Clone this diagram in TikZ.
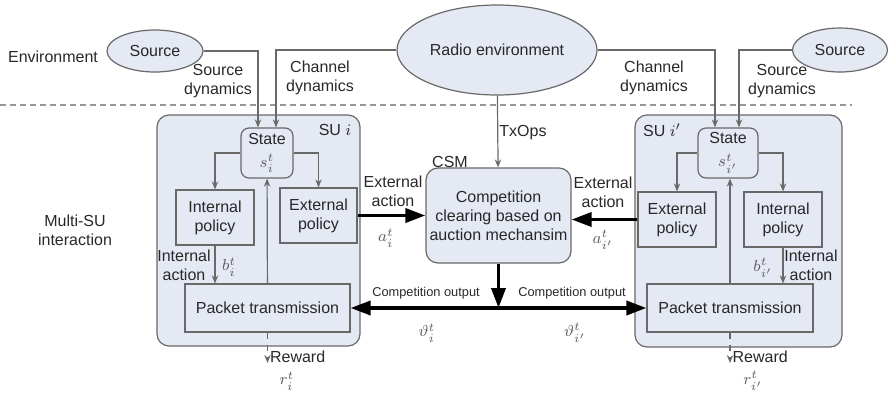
\documentclass[tikz,border=0pt]{standalone}
\usepackage{fontspec}
\setmainfont{Liberation Sans}
\usepackage{tikz}
\usetikzlibrary{arrows.meta,shapes.geometric}
\definecolor{boxfill}{RGB}{228,233,244}
\definecolor{edge}{RGB}{105,105,105}
\definecolor{txt}{RGB}{40,40,40}
\definecolor{mathtxt}{RGB}{95,95,95}
\newcommand{\vlab}[1]{\textcolor{mathtxt}{$#1$}}

\begin{document}
\begin{tikzpicture}[x=0.5pt,y=-0.5pt,>={Stealth[length=4pt,width=3.2pt]},
    line width=0.6pt,text=txt,font=\fontsize{8}{9.5}\selectfont,
    blk/.style={draw=edge,fill=boxfill,align=center,inner sep=1pt},
    oval/.style={ellipse,draw=edge,fill=boxfill,inner sep=0pt},
    su/.style={draw=edge,fill=boxfill,rounded corners=6pt},
    lnk/.style={draw=edge,->},
    big/.style={draw=black,line width=1.8pt,-{Triangle[length=10pt,width=7pt]}},
    sm/.style={font=\fontsize{6.4}{7.5}\selectfont},
    mlab/.style={inner sep=0.5pt}]
      \useasboundingbox (0,0) rectangle (888,392);
      % environment
      \draw[edge!70,dash pattern=on 3pt off 2pt] (0,105) -- (852,105);
      \node (env) at (53,57) {Environment};
      \node[oval,minimum width=48pt,minimum height=21pt] (srcL) at (155,51) {Source};
      \node[oval,minimum width=100pt,minimum height=45pt] (radio) at (497,50) {Radio environment};
      \node[oval,minimum width=47.5pt,minimum height=22pt] (srcR) at (840,50) {Source};
      \node[align=center] (multi) at (75,230) {Multi-SU\\interaction};
      % SU boxes
      \node[su,minimum width=101.5pt,minimum height=115.5pt] (suL) at (258.5,230.5) {};
      \node[su,minimum width=103.5pt,minimum height=116pt] (suR) at (738.5,231) {};
      \node (suLlbl) at (335,130) {SU $i$};
      \node (suRlbl) at (662,130) {SU $i'$};
      \node[blk,rounded corners=4pt,minimum width=26pt,minimum height=25pt] (stL) at (267,153) {State\\[2pt]\vlab{s_i^t}};
      \node[blk,rounded corners=4pt,minimum width=30pt,minimum height=25pt] (stR) at (728,153) {State\\[2pt]\vlab{s_{i'}^t}};
      \node[blk,minimum width=39pt,minimum height=27.5pt] (intL) at (215,217.5) {Internal\\policy};
      \node[blk,minimum width=38.5pt,minimum height=27.5pt] (extL) at (318.5,215.5) {External\\policy};
      \node[blk,minimum width=39pt,minimum height=27.5pt] (extR) at (677,219.5) {External\\policy};
      \node[blk,minimum width=39pt,minimum height=27.5pt] (intR) at (783,219.5) {Internal\\policy};
      \node[blk,minimum width=82.5pt,minimum height=24pt] (pktL) at (267.5,308) {Packet transmission};
      \node[blk,minimum width=83pt,minimum height=24pt] (pktR) at (730,308) {Packet transmission};
      \node[blk,rounded corners=6pt,minimum width=72.5pt,minimum height=47.5pt] (csm) at (498.5,215.5) {Competition\\clearing based on\\auction mechansim};
      \node (csmlbl) at (450,162) {CSM};
      \coordinate (jn) at (498.5,308);
      \coordinate (rwL) at (267.5,363);
      \coordinate (rwR) at (730,363);
      % environment to SUs
      \draw[lnk] (srcL) -| ([xshift=-4.5pt]stL.north);
      \draw[lnk] (radio) -| ([xshift=4.5pt]stL.north);
      \draw[lnk] (radio) -| ([xshift=-6.5pt]stR.north);
      \draw[lnk] (srcR) -| ([xshift=5.5pt]stR.north);
      \draw[lnk] (radio) -- (csm);
      \node[align=center] (sdL) at (218,81) {Source\\dynamics};
      \node[align=center] (cdL) at (320,78) {Channel\\dynamics};
      \node[align=center] (cdR) at (654,78) {Channel\\dynamics};
      \node[align=center] (sdR) at (782,81) {Source\\dynamics};
      \node (txops) at (523,133) {TxOps};
      % inside SU i
      \draw[lnk] (stL) -| (intL);
      \draw[lnk] (stL) -| (extL);
      \draw[lnk] (pktL) -- (stL);
      \draw[lnk] (intL) -- (intL |- pktL.north);
      \draw[lnk,dashed] (pktL) -- (rwL);
      \node[align=center] (iaL) at (184,265) {Internal\\action};
      \node[mlab] (bL) at (229,267) {\vlab{b_i^t}};
      \node[anchor=west,inner sep=1pt] (rewL) at (rwL |- 0,357) {Reward};
      \node[mlab] (rL) at (287,381) {\vlab{r_i^t}};
      % inside SU i'
      \draw[lnk] (stR) -| (extR);
      \draw[lnk] (stR) -| (intR);
      \draw[lnk] (pktR) -- (stR.south -| pktR.north);
      \draw[lnk] (intR) -- (intR |- pktR.north);
      \draw[lnk,dashed] (pktR) -- (rwR);
      \node[align=center] (iaR) at (811,265) {Internal\\action};
      \node[mlab] (bR) at (763,268) {\vlab{b_{i'}^t}};
      \node[anchor=west,inner sep=1pt] (rewR) at (rwR |- 0,357) {Reward};
      \node[mlab] (rR) at (753,381) {\vlab{r_{i'}^t}};
      % interaction with the CSM
      \draw[big] (extL) -- (extL.east -| csm.west);
      \draw[big] (extR) -- (extR.west -| csm.east);
      \draw[big] (csm) -- (jn);
      \draw[big] (jn) -- (pktL);
      \draw[big] (jn) -- (pktR);
      \node[align=center] (eaL) at (393,191) {External\\action};
      \node[mlab] (aL) at (386,238) {\vlab{a_i^t}};
      \node[align=center] (eaR) at (603,192) {External\\action};
      \node[mlab] (aR) at (603,240) {\vlab{a_{i'}^t}};
      \node[sm] (coL) at (426,293) {Competition output};
      \node[sm] (coR) at (572,293) {Competition output};
      \node[mlab] (thL) at (427,333) {\vlab{\vartheta_i^t}};
      \node[mlab] (thR) at (575,333) {\vlab{\vartheta_{i'}^t}};
    \end{tikzpicture}
\end{document}
